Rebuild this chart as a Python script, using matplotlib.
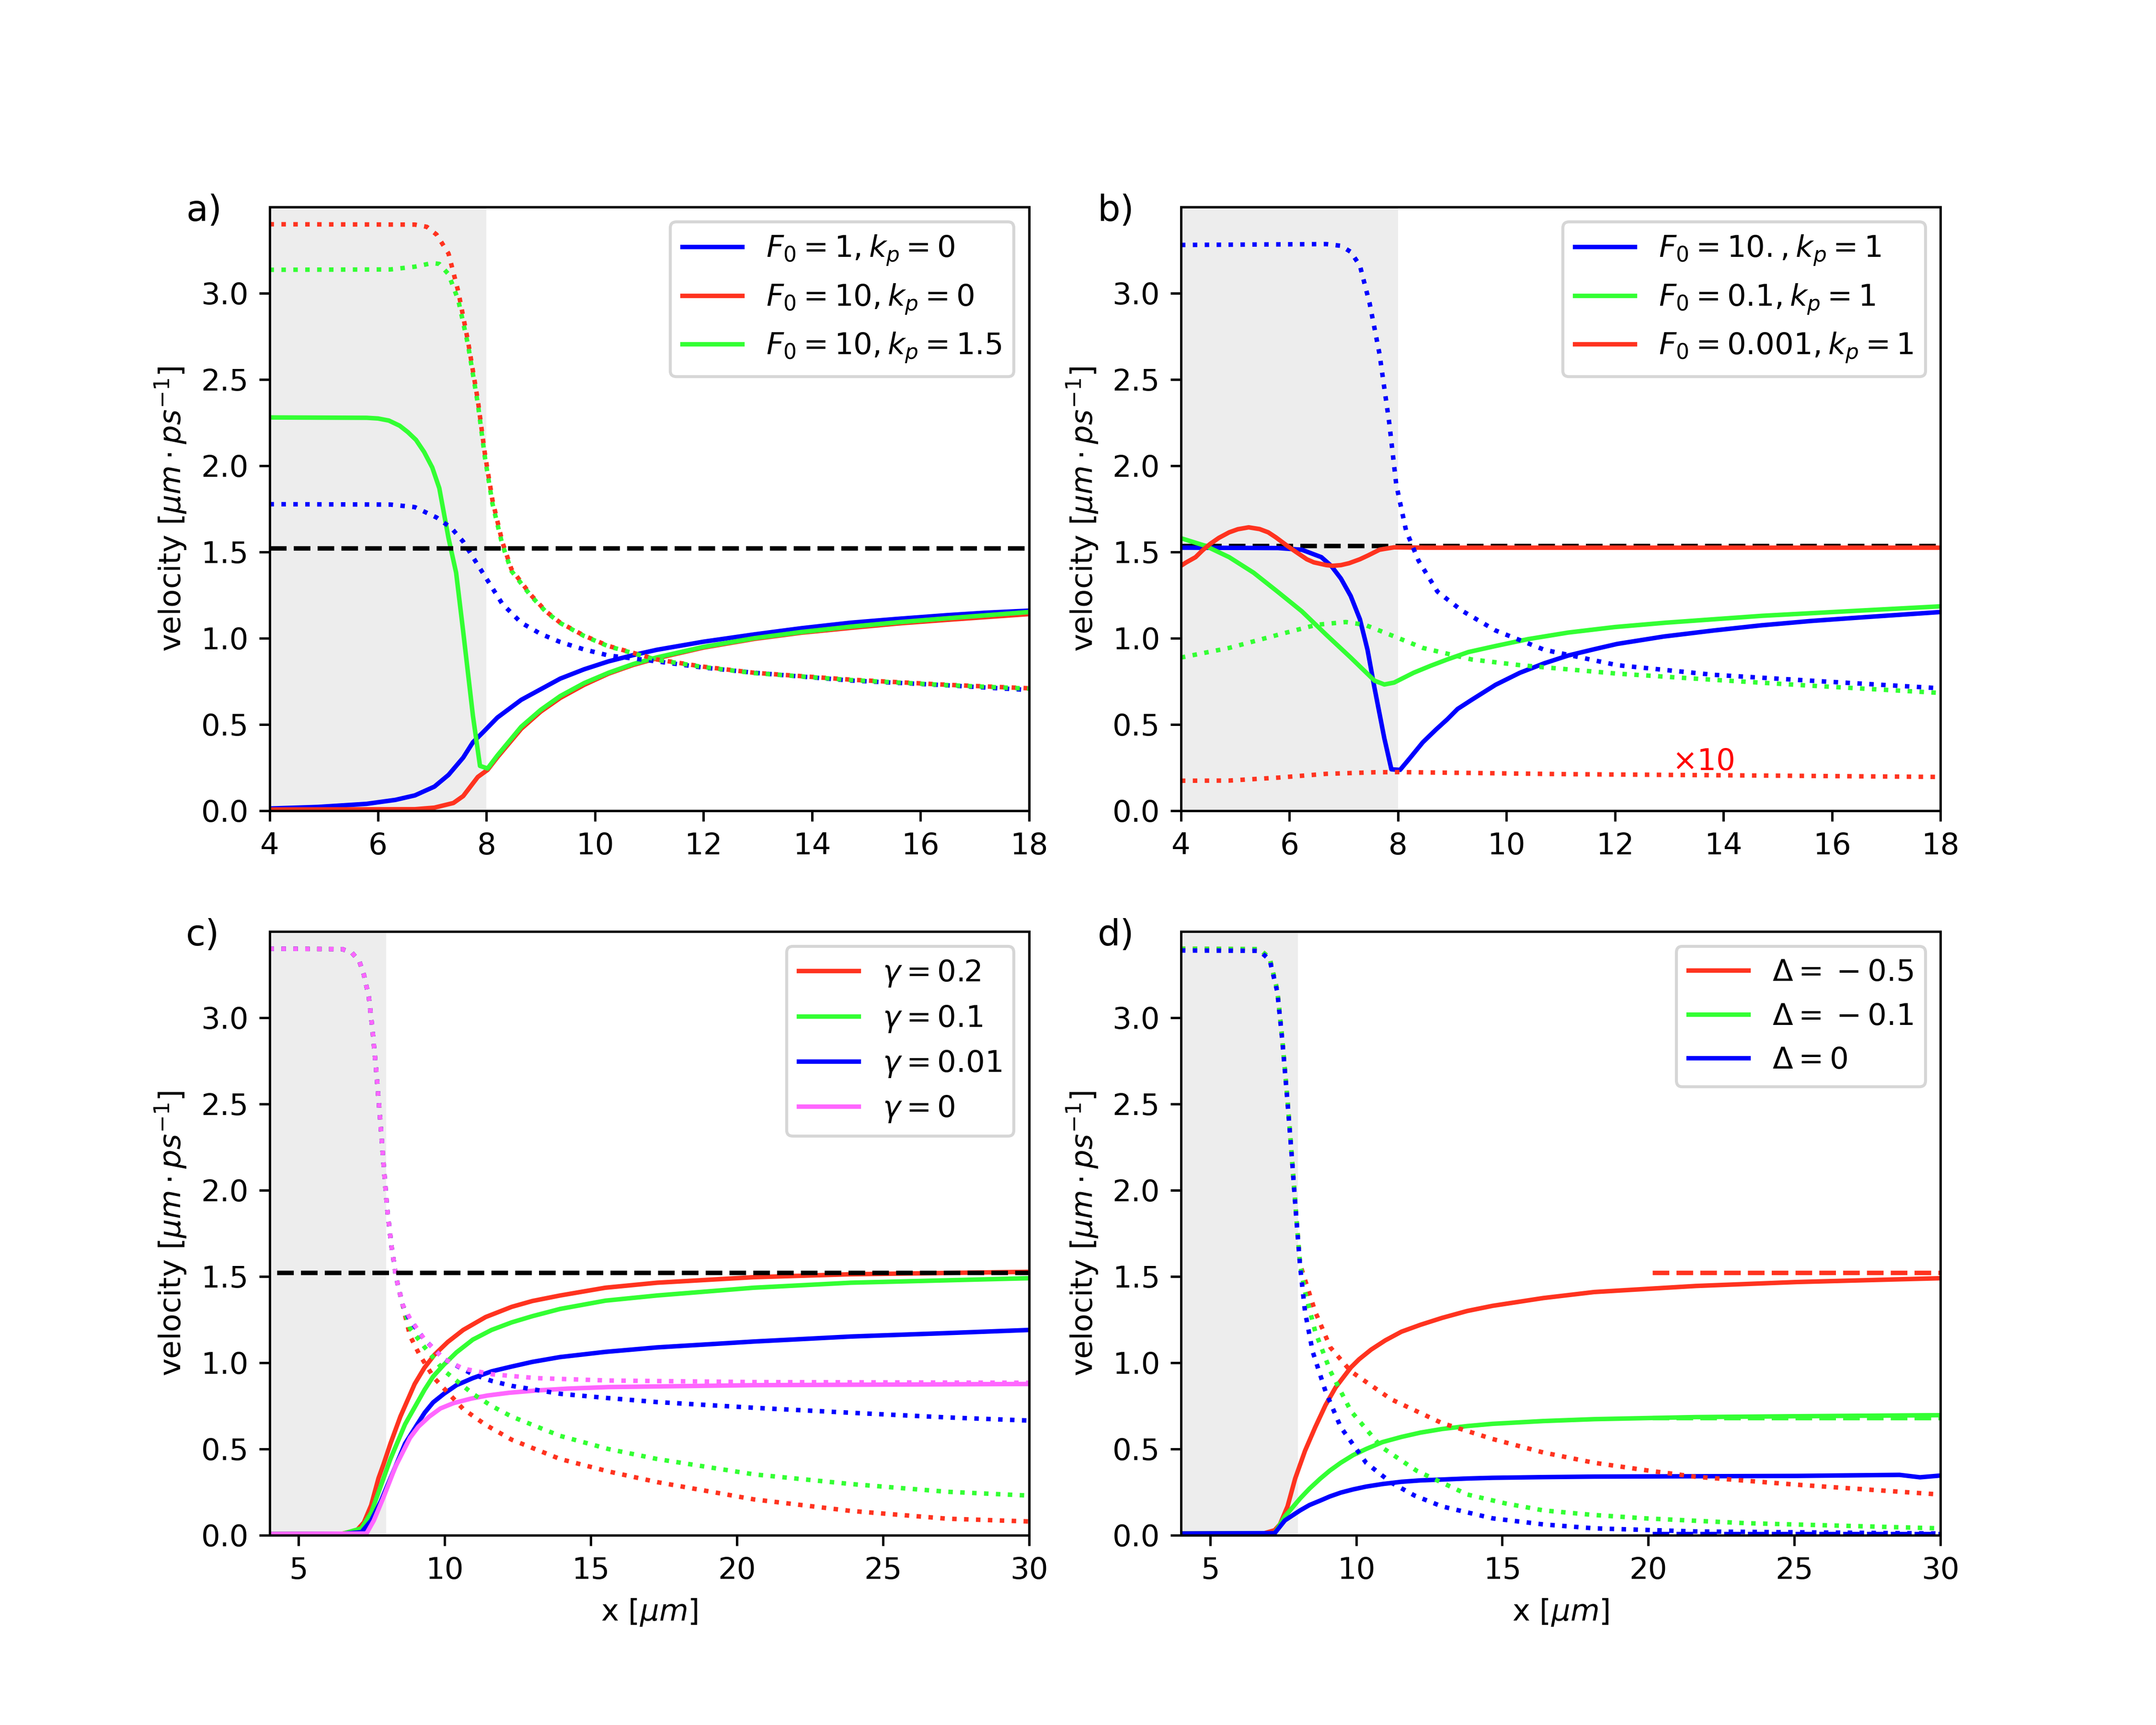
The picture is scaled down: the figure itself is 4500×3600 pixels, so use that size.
import matplotlib.pyplot as plt

RED = '#ff331f'
GREEN = '#33ff33'
BLUE = '#0000ff'
PINK = '#ff66ff'
SHADE = '#ededed'

# ---------------- panel a ----------------
a_blue_x = [4.0, 4.89, 5.79, 6.32, 6.68, 7.04, 7.30, 7.57, 7.75, 7.93, 8.20, 8.64, 9.36, 9.8, 10.25, 10.7, 11.14, 12.0, 12.93, 13.8, 14.71, 15.6, 16.5, 17.2, 18.0]
a_blue_y = [0.013, 0.022, 0.040, 0.063, 0.089, 0.140, 0.208, 0.308, 0.397, 0.453, 0.540, 0.643, 0.766, 0.820, 0.866, 0.902, 0.933, 0.980, 1.022, 1.058, 1.090, 1.113, 1.134, 1.148, 1.160]
a_red_x = [4.0, 6.68, 7.04, 7.39, 7.57, 7.84, 8.02, 8.20, 8.64, 9.0, 9.36, 9.8, 10.25, 10.7, 11.14, 12.0, 12.93, 13.8, 14.71, 15.6, 16.5, 18.0]
a_red_y = [0.007, 0.009, 0.018, 0.045, 0.085, 0.196, 0.237, 0.310, 0.475, 0.575, 0.654, 0.730, 0.795, 0.845, 0.884, 0.946, 0.996, 1.032, 1.060, 1.086, 1.107, 1.140]
a_green_x = [4.0, 5.79, 6.0, 6.2, 6.4, 6.55, 6.7, 6.85, 7.0, 7.13, 7.30, 7.44, 7.57, 7.75, 7.88, 8.02, 8.20, 8.64, 9.0, 9.36, 9.8, 10.25, 10.7, 11.14, 12.0, 12.93, 13.8, 14.71, 15.6, 16.5, 18.0]
a_green_y = [2.280, 2.278, 2.274, 2.262, 2.232, 2.195, 2.150, 2.080, 1.990, 1.870, 1.580, 1.380, 1.040, 0.550, 0.260, 0.245, 0.320, 0.487, 0.585, 0.665, 0.740, 0.800, 0.850, 0.889, 0.950, 1.000, 1.036, 1.067, 1.093, 1.116, 1.152]

a_blue_dot_x = [4.0, 6.23, 6.68, 7.08, 7.35, 7.57, 7.93, 8.29, 8.64, 9.0, 9.36, 9.8, 10.25, 11.14, 12.0, 12.93, 14.71, 16.5, 18.0]
a_blue_dot_y = [1.777, 1.775, 1.760, 1.700, 1.640, 1.560, 1.380, 1.200, 1.090, 1.025, 0.978, 0.935, 0.900, 0.866, 0.830, 0.800, 0.755, 0.727, 0.700]
a_red_dot_x = [4.0, 6.68, 6.9, 7.08, 7.30, 7.48, 7.66, 7.84, 7.97, 8.11, 8.29, 8.46, 8.82, 9.1, 9.36, 9.8, 10.25, 11.14, 12.0, 12.93, 14.71, 16.5, 18.0]
a_red_dot_y = [3.400, 3.398, 3.385, 3.340, 3.230, 3.010, 2.720, 2.380, 2.070, 1.800, 1.560, 1.400, 1.250, 1.155, 1.090, 1.015, 0.955, 0.877, 0.835, 0.800, 0.760, 0.730, 0.710]
a_green_dot_x = [4.0, 6.23, 6.68, 7.0, 7.13, 7.30, 7.48, 7.66, 7.84, 7.97, 8.11, 8.29, 8.46, 8.82, 9.1, 9.36, 9.8, 10.25, 11.14, 12.0, 12.93, 14.71, 16.5, 18.0]
a_green_dot_y = [3.136, 3.138, 3.154, 3.175, 3.170, 3.110, 2.960, 2.700, 2.360, 2.050, 1.780, 1.545, 1.390, 1.245, 1.152, 1.088, 1.013, 0.953, 0.875, 0.833, 0.798, 0.758, 0.728, 0.708]
a_ref = 1.522

# ---------------- panel b ----------------
b_blue_x = [4.0, 5.79, 6.23, 6.59, 6.77, 6.95, 7.13, 7.30, 7.44, 7.57, 7.75, 7.88, 8.04, 8.20, 8.46, 8.7, 8.91, 9.1, 9.36, 9.8, 10.25, 10.7, 11.14, 11.6, 12.04, 12.9, 13.82, 14.7, 15.61, 16.5, 18.0]
b_blue_y = [1.525, 1.523, 1.513, 1.470, 1.420, 1.346, 1.245, 1.110, 0.933, 0.710, 0.420, 0.240, 0.237, 0.297, 0.397, 0.470, 0.530, 0.590, 0.643, 0.730, 0.800, 0.855, 0.900, 0.935, 0.967, 1.010, 1.045, 1.075, 1.100, 1.120, 1.152]
b_green_x = [4.0, 4.45, 4.89, 5.34, 5.79, 6.23, 6.68, 7.13, 7.57, 7.75, 7.93, 8.29, 8.6, 8.91, 9.3, 9.80, 10.4, 11.14, 12.0, 12.93, 14.71, 16.5, 18.0]
b_green_y = [1.580, 1.536, 1.470, 1.380, 1.268, 1.156, 1.020, 0.888, 0.754, 0.732, 0.743, 0.800, 0.840, 0.877, 0.920, 0.955, 0.995, 1.033, 1.065, 1.090, 1.130, 1.160, 1.185]
b_red_x = [4.0, 4.1, 4.27, 4.4, 4.54, 4.7, 4.89, 5.05, 5.25, 5.45, 5.61, 5.75, 5.96, 6.1, 6.32, 6.45, 6.68, 6.8, 6.95, 7.1, 7.30, 7.45, 7.66, 7.75, 7.93, 8.5, 18.0]
b_red_y = [1.420, 1.440, 1.470, 1.510, 1.547, 1.582, 1.614, 1.632, 1.643, 1.633, 1.614, 1.585, 1.536, 1.505, 1.458, 1.440, 1.424, 1.420, 1.424, 1.435, 1.458, 1.480, 1.513, 1.518, 1.527, 1.525, 1.525]

b_blue_dot_x = [4.0, 6.68, 6.95, 7.13, 7.30, 7.48, 7.66, 7.84, 7.97, 8.15, 8.38, 8.73, 9.18, 9.80, 10.70, 12.04, 13.82, 15.61, 18.0]
b_blue_dot_y = [3.280, 3.285, 3.275, 3.240, 3.160, 2.940, 2.650, 2.250, 1.890, 1.625, 1.450, 1.270, 1.160, 1.045, 0.933, 0.844, 0.788, 0.754, 0.710]
b_green_dot_x = [4.0, 4.89, 5.79, 6.50, 7.04, 7.39, 7.93, 8.46, 9.36, 10.25, 12.04, 13.82, 15.61, 18.0]
b_green_dot_y = [0.888, 0.944, 1.020, 1.078, 1.094, 1.078, 1.011, 0.944, 0.877, 0.844, 0.795, 0.759, 0.725, 0.683]
b_red_dot_x = [4.0, 4.89, 5.79, 6.68, 7.57, 8.02, 9.36, 11.14, 12.93, 14.71, 18.0]
b_red_dot_y = [0.174, 0.175, 0.192, 0.214, 0.223, 0.224, 0.219, 0.212, 0.208, 0.204, 0.196]
b_ref = 1.536

# ---------------- panel c ----------------
c_red_x = [4.0, 6.49, 6.99, 7.23, 7.48, 7.73, 7.90, 8.14, 8.48, 8.97, 9.3, 9.64, 10.1, 10.63, 11.4, 12.29, 13.0, 13.95, 15.5, 17.27, 20.58, 23.9, 30.0]
c_red_y = [0.007, 0.009, 0.029, 0.074, 0.174, 0.330, 0.410, 0.531, 0.688, 0.877, 0.970, 1.045, 1.120, 1.190, 1.265, 1.324, 1.358, 1.390, 1.435, 1.464, 1.496, 1.513, 1.527]
c_green_x = [4.0, 6.49, 7.15, 7.48, 7.81, 8.14, 8.64, 9.31, 9.6, 9.97, 10.4, 10.96, 11.6, 12.29, 13.0, 13.95, 15.5, 17.27, 20.58, 23.9, 27.2, 30.0]
c_green_y = [0.007, 0.008, 0.040, 0.130, 0.286, 0.442, 0.643, 0.844, 0.920, 0.989, 1.060, 1.134, 1.190, 1.234, 1.270, 1.312, 1.360, 1.390, 1.435, 1.464, 1.478, 1.490]
c_blue_x = [4.0, 6.49, 7.15, 7.48, 7.81, 8.14, 8.64, 9.31, 9.6, 9.97, 10.4, 10.96, 11.6, 12.29, 13.0, 13.95, 15.5, 17.27, 20.58, 23.9, 27.2, 30.0]
c_blue_y = [0.007, 0.008, 0.018, 0.085, 0.196, 0.330, 0.531, 0.710, 0.770, 0.820, 0.870, 0.911, 0.950, 0.978, 1.005, 1.033, 1.063, 1.089, 1.123, 1.152, 1.172, 1.190]
c_pink_x = [4.0, 7.32, 7.57, 7.90, 8.31, 8.81, 9.1, 9.47, 9.85, 10.3, 10.9, 11.46, 12.2, 13.12, 14.2, 15.6, 20.58, 30.0]
c_pink_y = [0.007, 0.010, 0.085, 0.219, 0.397, 0.565, 0.630, 0.688, 0.735, 0.766, 0.792, 0.810, 0.826, 0.839, 0.850, 0.859, 0.870, 0.877]

c_top_x = [4.0, 6.49, 6.82, 7.07, 7.23, 7.40, 7.52, 7.65, 7.78, 7.90, 8.03, 8.18, 8.34, 8.56]
c_top_y = [3.400, 3.398, 3.377, 3.330, 3.250, 3.120, 2.940, 2.700, 2.430, 2.160, 1.890, 1.670, 1.490, 1.335]
c_red_dot_x = c_top_x + [8.81, 9.14, 9.64, 10.63, 11.4, 12.29, 13.95, 15.6, 17.27, 20.58, 23.9, 27.2, 30.0]
c_red_dot_y = c_top_y + [1.156, 1.045, 0.911, 0.732, 0.640, 0.554, 0.442, 0.370, 0.308, 0.208, 0.141, 0.096, 0.080]
c_green_dot_x = c_top_x + [8.81, 9.31, 9.97, 10.96, 11.6, 12.29, 13.95, 15.6, 17.27, 20.58, 23.9, 27.2, 30.0]
c_green_dot_y = c_top_y + [1.200, 1.090, 0.955, 0.820, 0.750, 0.688, 0.576, 0.500, 0.442, 0.353, 0.297, 0.252, 0.230]
c_blue_dot_x = c_top_x + [8.81, 9.31, 9.97, 10.96, 11.6, 12.29, 13.95, 15.6, 17.27, 20.58, 23.9, 27.2, 30.0]
c_blue_dot_y = c_top_y + [1.245, 1.134, 1.022, 0.933, 0.895, 0.866, 0.820, 0.795, 0.772, 0.739, 0.710, 0.683, 0.665]
c_pink_dot_x = c_top_x + [8.81, 9.31, 9.97, 10.63, 11.63, 13.12, 15.6, 20.58, 30.0]
c_pink_dot_y = c_top_y + [1.257, 1.134, 1.022, 0.966, 0.933, 0.911, 0.897, 0.888, 0.884]
c_ref = 1.522

# ---------------- panel d ----------------
d_red_x = [4.0, 6.86, 7.21, 7.39, 7.65, 7.91, 8.25, 8.60, 8.95, 9.30, 9.82, 10.1, 10.51, 11.0, 11.55, 12.2, 12.94, 13.8, 14.67, 16.4, 18.15, 21.62, 25.09, 30.0]
d_red_y = [0.010, 0.012, 0.029, 0.063, 0.167, 0.328, 0.490, 0.627, 0.754, 0.858, 0.973, 1.020, 1.076, 1.130, 1.180, 1.220, 1.260, 1.300, 1.330, 1.375, 1.410, 1.445, 1.468, 1.490]
d_green_x = [4.0, 7.21, 7.56, 8.08, 8.4, 8.77, 9.1, 9.47, 9.9, 10.34, 10.9, 11.55, 12.2, 12.94, 13.8, 14.67, 16.4, 18.15, 21.62, 25.09, 30.0]
d_green_y = [0.010, 0.012, 0.109, 0.213, 0.270, 0.328, 0.375, 0.420, 0.465, 0.500, 0.540, 0.570, 0.595, 0.616, 0.633, 0.646, 0.662, 0.673, 0.685, 0.690, 0.696]
d_blue_x = [4.0, 7.21, 7.56, 8.08, 8.4, 8.77, 9.1, 9.47, 9.9, 10.34, 10.9, 11.55, 12.2, 12.94, 13.8, 14.67, 16.4, 18.15, 25.09, 28.6, 29.3, 30.0]
d_blue_y = [0.010, 0.012, 0.086, 0.144, 0.175, 0.201, 0.225, 0.247, 0.266, 0.282, 0.297, 0.310, 0.318, 0.323, 0.329, 0.333, 0.337, 0.340, 0.344, 0.350, 0.336, 0.346]

d_top_x = [4.0, 6.69, 7.04, 7.30, 7.47, 7.65, 7.82, 7.94, 8.08]
d_top_y = [3.400, 3.398, 3.345, 3.160, 2.880, 2.520, 2.147, 1.870, 1.570]
d_red_dot_x = d_top_x + [8.25, 8.60, 9.12, 9.82, 11.2, 12.94, 14.67, 16.4, 18.15, 20.0, 21.62, 25.09, 30.0]
d_red_dot_y = d_top_y + [1.480, 1.295, 1.088, 0.950, 0.788, 0.650, 0.558, 0.480, 0.420, 0.375, 0.339, 0.293, 0.236]
d_green_dot_x = d_top_x + [8.25, 8.60, 9.12, 9.82, 10.86, 12.07, 13.81, 15.1, 16.41, 18.1, 19.88, 23.35, 30.0]
d_green_dot_y = d_top_y + [1.410, 1.180, 0.950, 0.720, 0.512, 0.374, 0.236, 0.185, 0.144, 0.118, 0.098, 0.070, 0.040]
d_blue_dot_x = d_top_x + [8.25, 8.51, 8.95, 9.47, 10.34, 11.2, 12.0, 12.94, 14.67, 16.4, 18.15, 21.62, 30.0]
d_blue_dot_y = [3.390, 3.388, 3.335, 3.150, 2.870, 2.510, 2.140, 1.860, 1.560] + [1.295, 1.065, 0.835, 0.627, 0.420, 0.305, 0.230, 0.167, 0.098, 0.063, 0.040, 0.022, 0.010]

d_limit_x = [20.15, 30.0]
d_red_lim = 1.521
d_green_lim = 0.680
d_blue_lim = 0.008

YLABEL = r'velocity [$\mu m\cdot ps^{-1}$]'
XLABEL = r'x [$\mu m$]'

fig, axs = plt.subplots(2, 2, figsize=(10, 8))
ax_a, ax_b, ax_c, ax_d = axs[0, 0], axs[0, 1], axs[1, 0], axs[1, 1]

# a)
ax = ax_a
ax.axvspan(4, 8, color=SHADE, lw=0, zorder=0)
ax.plot(a_blue_x, a_blue_y, color=BLUE, label=r'$F_0=1, k_p=0$')
ax.plot(a_red_x, a_red_y, color=RED, label=r'$F_0=10, k_p=0$')
ax.plot(a_green_x, a_green_y, color=GREEN, label=r'$F_0=10, k_p=1.5$')
ax.plot(a_blue_dot_x, a_blue_dot_y, ':', color=BLUE)
ax.plot(a_red_dot_x, a_red_dot_y, ':', color=RED)
ax.plot(a_green_dot_x, a_green_dot_y, ':', color=GREEN)
ax.plot([4, 18], [a_ref, a_ref], '--', color='black')
ax.set_xlim(4, 18)
ax.legend(loc='upper right')

# b)
ax = ax_b
ax.axvspan(4, 8, color=SHADE, lw=0, zorder=0)
ax.plot([4, 18], [b_ref, b_ref], '--', color='black')
ax.plot(b_blue_x, b_blue_y, color=BLUE, label=r'$F_0=10., k_p=1$')
ax.plot(b_green_x, b_green_y, color=GREEN, label=r'$F_0=0.1, k_p=1$')
ax.plot(b_red_x, b_red_y, color=RED, label=r'$F_0=0.001, k_p=1$')
ax.plot(b_blue_dot_x, b_blue_dot_y, ':', color=BLUE)
ax.plot(b_green_dot_x, b_green_dot_y, ':', color=GREEN)
ax.plot(b_red_dot_x, b_red_dot_y, ':', color=RED)
ax.text(13.06, 0.236, '×10', color='red', fontsize=10, va='baseline')
ax.set_xlim(4, 18)
ax.legend(loc='upper right')

# c)
ax = ax_c
ax.axvspan(4, 8, color=SHADE, lw=0, zorder=0)
ax.plot(c_red_x, c_red_y, color=RED, label=r'$\gamma=0.2$')
ax.plot(c_green_x, c_green_y, color=GREEN, label=r'$\gamma=0.1$')
ax.plot(c_blue_x, c_blue_y, color=BLUE, label=r'$\gamma=0.01$')
ax.plot(c_pink_x, c_pink_y, color=PINK, label=r'$\gamma=0$')
ax.plot(c_red_dot_x, c_red_dot_y, ':', color=RED)
ax.plot(c_green_dot_x, c_green_dot_y, ':', color=GREEN)
ax.plot(c_blue_dot_x, c_blue_dot_y, ':', color=BLUE)
ax.plot(c_pink_dot_x, c_pink_dot_y, ':', color=PINK)
ax.plot([4.25, 30], [c_ref, c_ref], '--', color='black')
ax.set_xlim(4, 30)
ax.set_xlabel(XLABEL)
ax.legend(loc='upper right')

# d)
ax = ax_d
ax.axvspan(4, 8, color=SHADE, lw=0, zorder=0)
ax.plot(d_red_x, d_red_y, color=RED, label=r'$\Delta=\>-\>0.5$')
ax.plot(d_green_x, d_green_y, color=GREEN, label=r'$\Delta=\>-\>0.1$')
ax.plot(d_blue_x, d_blue_y, color=BLUE, label=r'$\Delta=0$')
ax.plot(d_red_dot_x, d_red_dot_y, ':', color=RED)
ax.plot(d_green_dot_x, d_green_dot_y, ':', color=GREEN)
ax.plot(d_blue_dot_x, d_blue_dot_y, ':', color=BLUE)
ax.plot(d_limit_x, [d_red_lim, d_red_lim], '--', color=RED)
ax.plot(d_limit_x, [d_green_lim, d_green_lim], '--', color=GREEN)
ax.plot(d_limit_x, [d_blue_lim, d_blue_lim], '--', color=BLUE)
ax.set_xlim(4, 30)
ax.set_xlabel(XLABEL)
ax.legend(loc='upper right')

for ax, tag in zip([ax_a, ax_b, ax_c, ax_d], ['a)', 'b)', 'c)', 'd)']):
    ax.set_ylim(0, 3.5)
    ax.set_yticks([0, 0.5, 1.0, 1.5, 2.0, 2.5, 3.0])
    ax.set_ylabel(YLABEL)
    ax.text(-0.11, 0.977, tag, transform=ax.transAxes, fontsize=12, va='baseline')

fig.savefig('out.png', dpi=450)
